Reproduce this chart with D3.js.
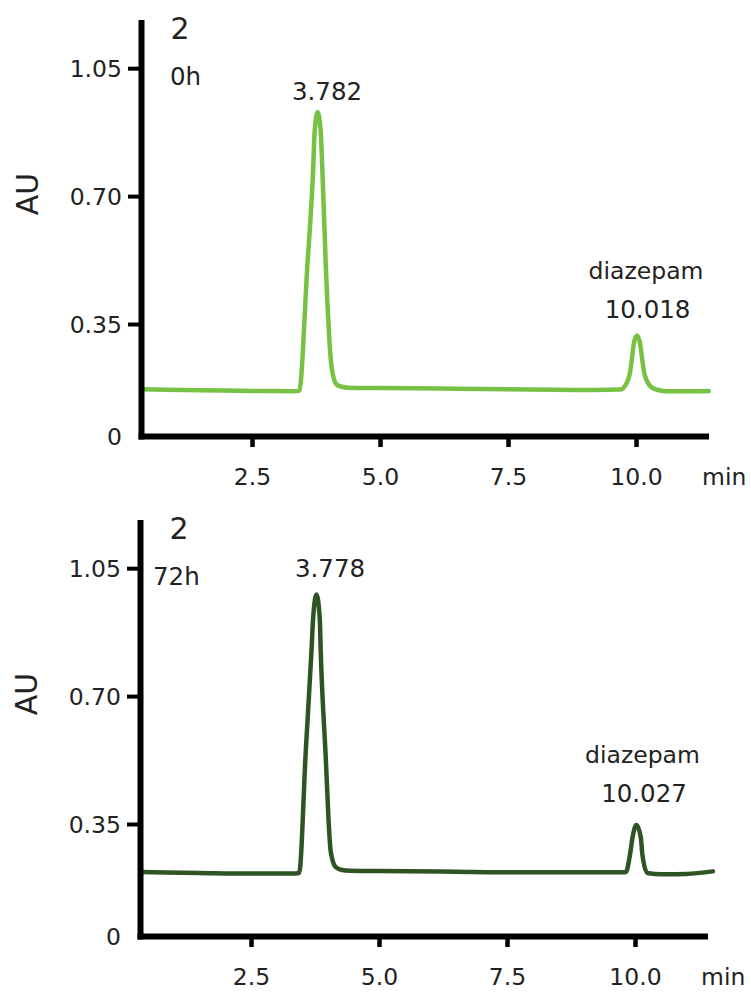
<!DOCTYPE html>
<html>
<head>
<meta charset="utf-8">
<script src="https://cdn.jsdelivr.net/npm/d3@7"></script>
<style>
  html, body { margin: 0; padding: 0; background: #fff; }
  svg text { font-family: "DejaVu Sans", Verdana, sans-serif; fill: #222; }
</style>
</head>
<body>
<svg id="chart" width="751" height="992"></svg>
<script>
// Chromatogram of sample 2 at 0 h: retention time (min) and absorbance (AU)
const time0h = [0.35, 1.5, 2.5, 3.3, 3.42, 3.58, 3.696, 3.721, 3.782, 3.844, 3.872, 3.942, 4.053, 4.151, 4.25, 4.38, 4.74,
                5.0, 6.5, 7.5, 9.0, 9.69, 9.758, 9.875, 9.922, 9.953, 10.018, 10.084, 10.117, 10.168, 10.312, 10.45, 10.6, 11.0, 11.42];
const au0h   = [0.146, 0.143, 0.141, 0.140, 0.141, 0.507, 0.780, 0.871, 0.930, 0.871, 0.780, 0.507, 0.218, 0.161, 0.154, 0.151, 0.150,
                0.150, 0.148, 0.146, 0.144, 0.145, 0.151, 0.192, 0.244, 0.285, 0.314, 0.285, 0.244, 0.192, 0.151, 0.143, 0.140, 0.140, 0.141];

// Same sample after 72 h
const time72h = [0.35, 1.5, 2.5, 3.3, 3.44, 3.569, 3.680, 3.713, 3.778, 3.843, 3.862, 3.954, 4.057, 4.155, 4.28, 4.43, 4.8,
                 5.0, 6.5, 7.5, 9.0, 9.75, 9.818, 9.902, 9.949, 10.027, 10.115, 10.144, 10.242, 10.4, 10.6, 11.0, 11.52];
const au72h   = [0.200, 0.197, 0.195, 0.195, 0.197, 0.548, 0.821, 0.912, 0.978, 0.912, 0.821, 0.548, 0.264, 0.215, 0.206, 0.204, 0.203,
                 0.203, 0.201, 0.199, 0.199, 0.199, 0.199, 0.254, 0.306, 0.347, 0.306, 0.254, 0.197, 0.194, 0.193, 0.194, 0.202];

// Annotated peaks: retention times and compound names
const peakRT0h  = [3.782, 10.018];
const peakRT72h = [3.778, 10.027];
const peakNames = ["", "diazepam"];

// Axis ticks
const xTicks = [2.5, 5.0, 7.5, 10.0];
const yTicks = [0, 0.35, 0.70, 1.05];
const xUnit = "min";
const yUnit = "AU";
const sampleId = "2";

const svg = d3.select("#chart");

// shared scales (panel coordinates)
const x = d3.scaleLinear().domain([0.332, 11.357]).range([141, 705.5]);
const y = d3.scaleLinear().domain([0, 0.35, 1.175]).range([436, 324, 22.5]);

const panels = [
  { tx: 0,  ty: 0,   time: time0h,  au: au0h,  rt: peakRT0h,  color: "#77c144", title: "0h",  titleX: 170,
    labelDx: [9.4, 10.6], rtY: [99.5, 317.5], nameY: [null, 279] },
  { tx: -1, ty: 500, time: time72h, au: au72h, rt: peakRT72h, color: "#2f5423", title: "72h", titleX: 154,
    labelDx: [13.6, 7.6], rtY: [76.5, 302], nameY: [null, 263.3] }
];

const yFmt = d => d === 0 ? "0" : d3.format(".2f")(d);
const xFmt = d3.format(".1f");

panels.forEach(p => {
  const g = svg.append("g").attr("transform", `translate(${p.tx},${p.ty})`);

  // trace
  const line = d3.line()
    .x(i => x(p.time[i]))
    .y(i => y(p.au[i]))
    .curve(d3.curveMonotoneX);
  g.append("path")
    .attr("d", line(d3.range(p.time.length)))
    .attr("fill", "none")
    .attr("stroke", p.color)
    .attr("stroke-width", 4.5)
    .attr("stroke-linecap", "round")
    .attr("stroke-linejoin", "round");

  // y axis
  const ya = g.append("g").attr("transform", `translate(${x.range()[0]},0)`)
    .call(d3.axisLeft(y).tickValues(yTicks).tickFormat(yFmt).tickSize(13).tickSizeOuter(0).tickPadding(6));
  ya.select(".domain").attr("stroke", "#000").attr("stroke-width", 6).attr("stroke-linecap", "square");
  ya.selectAll(".tick line").attr("stroke", "#000").attr("stroke-width", 4);
  ya.selectAll(".tick").filter(d => d === 0).select("line").remove();
  ya.selectAll(".tick text").attr("font-size", 23.5).attr("font-family", null).attr("dy", "0.36em");

  // x axis
  const xa = g.append("g").attr("transform", `translate(0,${y(0)})`)
    .call(d3.axisBottom(x).tickValues(xTicks).tickFormat(xFmt).tickSize(11).tickSizeOuter(0));
  xa.select(".domain").attr("stroke", "#000").attr("stroke-width", 6).attr("stroke-linecap", "square");
  xa.selectAll(".tick line").attr("stroke", "#000").attr("stroke-width", 4.5);
  xa.selectAll(".tick text").attr("font-size", 23.5).attr("font-family", null).attr("y", 49).attr("dy", 0);
  svg.selectAll(".tick text").attr("fill", "#222");

  // unit labels
  g.append("text").attr("x", 702).attr("y", 485).attr("font-size", 23.5).text(xUnit);
  g.append("text")
    .attr("transform", `translate(27,194) rotate(-90)`)
    .attr("text-anchor", "middle").attr("dominant-baseline", "central")
    .attr("font-size", 30).text(yUnit);

  // sample id and time point
  g.append("text").attr("x", 180).attr("y", 39.3).attr("text-anchor", "middle").attr("font-size", 30).text(sampleId);
  g.append("text").attr("x", p.titleX).attr("y", 85).attr("font-size", 24.5).text(p.title);

  // peak annotations
  p.rt.forEach((rt, i) => {
    const cx = x(rt) + p.labelDx[i];
    g.append("text").attr("x", cx).attr("y", p.rtY[i]).attr("text-anchor", "middle")
      .attr("font-size", 24.5).text(d3.format(".3f")(rt));
    if (peakNames[i]) {
      g.append("text").attr("x", cx - 1.5).attr("y", p.nameY[i]).attr("text-anchor", "middle")
        .attr("font-size", 23.5).text(peakNames[i]);
    }
  });
});
</script>
</body>
</html>
